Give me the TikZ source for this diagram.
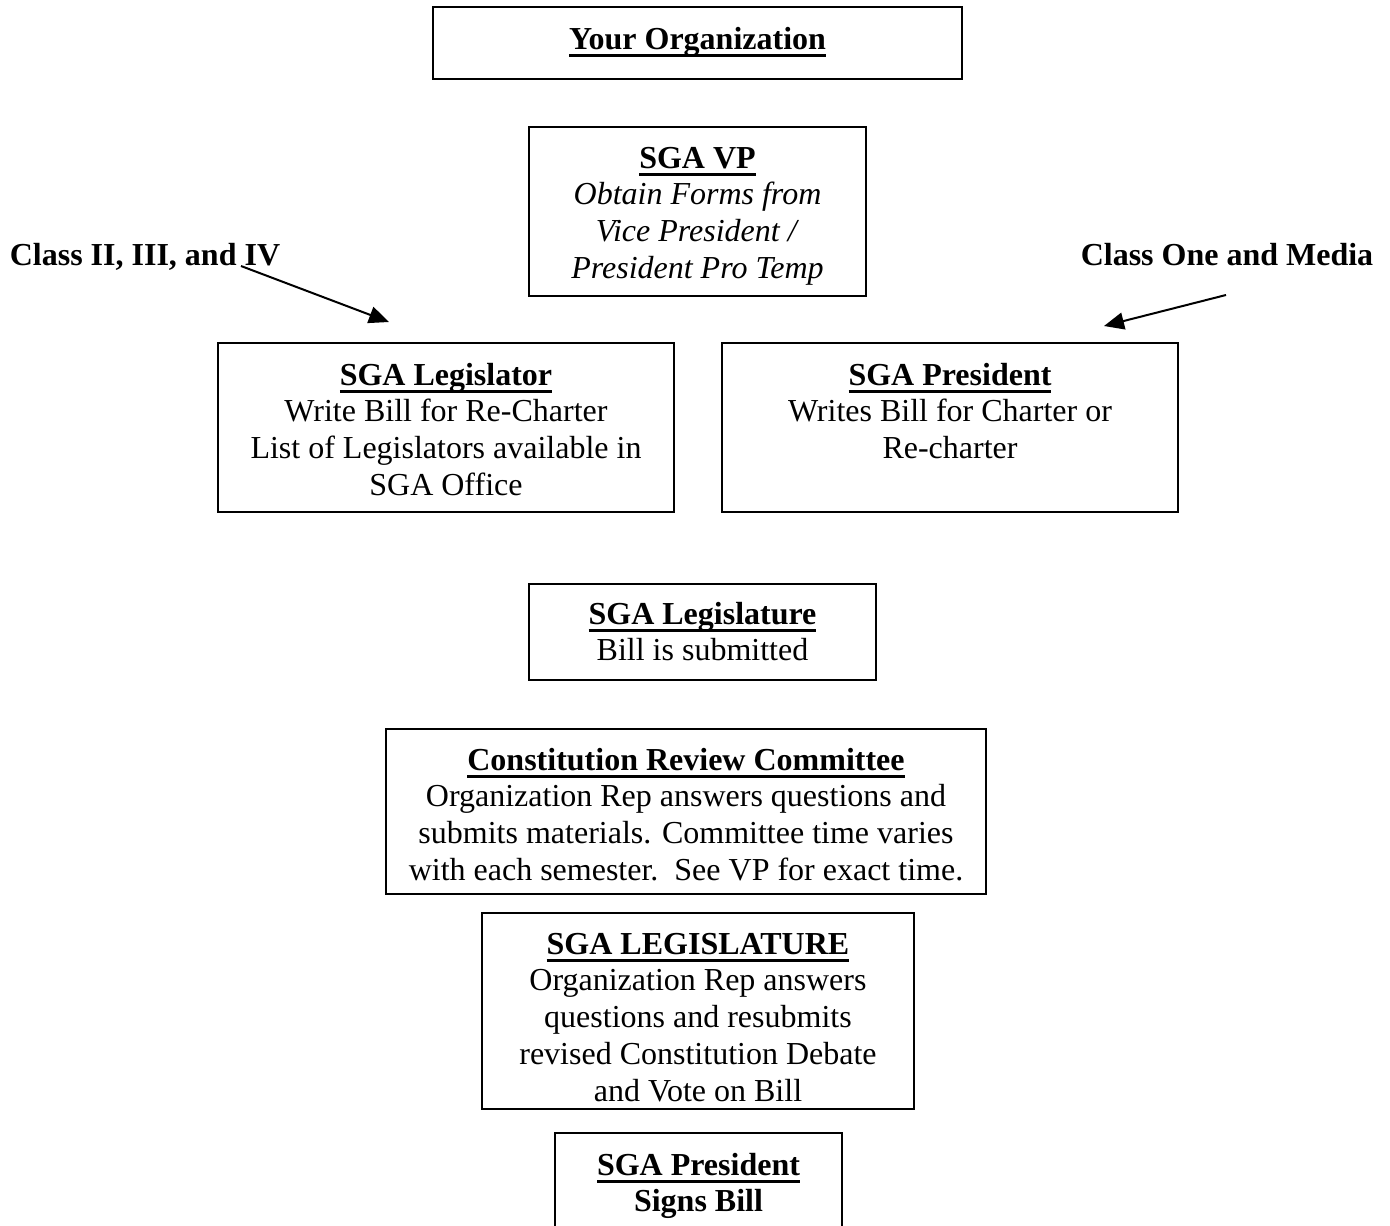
\documentclass[tikz,border=0pt]{standalone}
\usepackage{fontspec}
\setmainfont{Liberation Serif}
\usetikzlibrary{arrows.meta}
\newcommand\ulb[1]{\setbox0=\hbox{\textbf{#1}}\rlap{\rule[-7.5pt]{\wd0}{2.5pt}}\box0}
\newcommand\fl{\rule{0pt}{24pt}}
\begin{document}
\begin{tikzpicture}[x=1pt,y=-1pt,
  box/.style={draw, line width=1.8pt, inner sep=0pt},
  txt/.style={align=center, inner sep=0pt, anchor=north,
              font=\fontsize{32}{36.7}\selectfont},
  lbl/.style={font=\fontsize{32}{36.7}\selectfont\bfseries, inner sep=0pt, anchor=base},
  arr/.style={line width=2pt, -{Triangle[length=20pt,width=17pt]}}]
\useasboundingbox (0,0) rectangle (1390,1226);

% boxes
\node[box, minimum width=529pt, minimum height=72pt]  (orgbox)  at (697.5,43) {};
\node[box, minimum width=337pt, minimum height=169pt] (vpbox)   at (697.5,211.5) {};
\node[box, minimum width=456pt, minimum height=169pt] (legbox)  at (446,427.5) {};
\node[box, minimum width=456pt, minimum height=169pt] (presbox) at (950,427.5) {};
\node[box, minimum width=347pt, minimum height=96pt]  (lgsbox)  at (702.5,632) {};
\node[box, minimum width=600pt, minimum height=165pt] (crcbox)  at (686,811.5) {};
\node[box, minimum width=432pt, minimum height=196pt] (lgs2box) at (698,1011) {};
\node[box, minimum width=287pt, minimum height=101pt] (signbox) at (698.5,1183.5) {};

% texts (north = first baseline - 24)
\node[txt] (org) at (697.5,25) {\fl\ulb{Your Organization}};
\node[txt] (vp) at (697.5,144)
  {\fl\ulb{SGA VP}\\\textit{Obtain Forms from}\\\textit{Vice President /}\\\textit{President Pro Temp}};
\node[txt] (leg) at (446,361)
  {\fl\ulb{SGA Legislator}\\Write Bill for Re-Charter\\List of Legislators available in\\SGA Office};
\node[txt] (pres) at (950,361)
  {\fl\ulb{SGA President}\\Writes Bill for Charter or\\Re-charter};
\node[txt] (lgs) at (702.5,600)
  {\fl\ulb{SGA Legislature}\\Bill is submitted};
\node[txt] (crc) at (686,746)
  {\fl\ulb{Constitution Review Committee}\\Organization Rep answers questions and\\submits materials. Committee time varies\\with each semester.\ \ See VP for exact time.};
\node[txt] (lgs2) at (698,930)
  {\fl\ulb{SGA LEGISLATURE}\\Organization Rep answers\\questions and resubmits\\revised Constitution Debate\\and Vote on Bill};
\node[txt] (sign) at (698.5,1151)
  {\fl\ulb{SGA President}\\\textbf{Signs Bill}};

\node[lbl] (c2) at (145,265) {Class II, III, and IV};
\node[lbl] (c1) at (1227,265) {Class One and Media};

\coordinate (a1s) at (241,266);
\coordinate (a1e) at (389,322);
\coordinate (a2s) at (1226,295);
\coordinate (a2e) at (1104,326);
\draw[arr] (a1s) -- (a1e);
\draw[arr] (a2s) -- (a2e);
\end{tikzpicture}
\end{document}
